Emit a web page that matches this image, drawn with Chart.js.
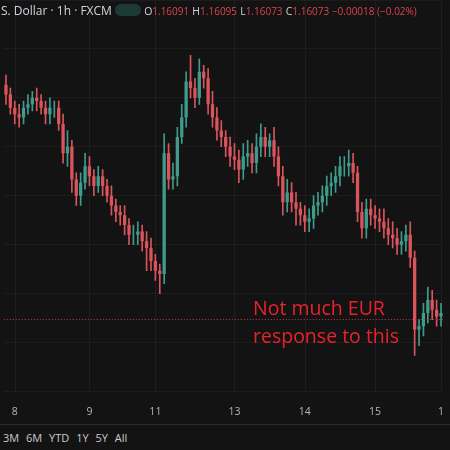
<!DOCTYPE html>
<html><head><meta charset="utf-8">
<script src="https://cdn.jsdelivr.net/npm/chart.js@4"></script>
<style>
html,body{margin:0;padding:0;background:#131313;width:450px;height:450px;overflow:hidden;font-family:"Open Sans",sans-serif}
#wrap{position:absolute;left:0;top:0;width:450px;height:424px}
#hdr{position:absolute;left:1px;top:2px;font-size:12px;color:#d1d4dc;white-space:nowrap}
#hdr .r{color:#d9454f;font-size:10px}
#hdr .k{font-size:10.5px}
#bot{position:absolute;left:0;top:424px;width:450px;height:26px;border-top:1px solid #2a2a2a;color:#c8cad0;font-size:11px;line-height:26px;padding-left:3px;word-spacing:4px}
</style></head><body>
<div id="wrap"><canvas id="c"></canvas></div>
<div id="hdr">S. Dollar · 1h · FXCM <span style="display:inline-block;width:26px;height:12px;background:#1d3b35;border-radius:6px;vertical-align:-1px"></span> <span class="k">O</span><span class="r">1.16091</span> <span class="k">H</span><span class="r">1.16095</span> <span class="k">L</span><span class="r">1.16073</span> <span class="k">C</span><span class="r">1.16073 −0.00018 (−0.02%)</span></div>
<div id="bot">3M 6M YTD 1Y 5Y All</div>
<script>
const closes=[1.1676,1.1672,1.1670,1.1669,1.1672,1.1673,1.1675,1.1674,1.1672,1.1670,
1.1672,1.1672,1.1667,1.1658,1.1660,1.1650,1.1645,1.1649,1.1654,1.1651,
1.1648,1.1651,1.1648,1.1645,1.1642,1.1640,1.1639,1.1636,1.1633,1.1633,
1.1634,1.1631,1.1629,1.1625,1.1622,1.1621,1.1658,1.1650,1.1651,1.1663,
1.1669,1.1680,1.1678,1.1675,1.1683,1.1681,1.1673,1.1669,1.1665,1.1663,
1.1660,1.1657,1.1656,1.1653,1.1657,1.1658,1.1655,1.1660,1.1663,1.1660,
1.1662,1.1657,1.1651,1.1643,1.1646,1.1643,1.1641,1.1639,1.1637,1.1638,
1.1642,1.1643,1.1645,1.1648,1.1649,1.1651,1.1654,1.1654,1.1655,1.1652,
1.1640,1.1635,1.1641,1.1639,1.1638,1.1637,1.1635,1.1633,1.1632,1.1630,
1.1631,1.1633,1.1626,1.1604,1.1605,1.1609,1.1613,1.1610,1.1608,1.1609];
const firstOpen=1.1679;
const wickUp=[3,2,2,3,2,3,2,3,2,2, 3,2,2,3,5,2,2,3,4,3, 2,3,2,2,3,2,2,3,2,3, 3,2,3,3,2,2,6,3,4,3, 4,3,8,3,4,2,3,4,3,3, 2,3,4,3,4,4,3,4,4,3, 2,4,3,3,4,3,3,2,3,3, 3,3,3,3,3,3,3,3,4,3, 2,3,3,3,3,3,4,3,4,3, 3,3,4,2,2,3,4,3,3,3];
const wickDn=[3,2,3,3,2,2,2,3,2,3, 3,3,2,3,4,4,3,3,2,3, 3,2,3,2,3,3,3,3,3,3, 3,3,7,3,3,6,3,3,3,3, 2,3,3,3,2,3,3,3,3,3, 3,3,3,4,3,3,3,3,3,3, 3,3,3,4,3,3,5,3,3,3, 3,3,3,3,3,3,3,3,3,3, 3,3,3,3,3,3,3,3,3,3, 3,3,3,8,5,3,3,3,3,3];
const dayLabels={2:"8",19:"9",34:"11",52:"13",68:"14",84:"15",99:"1"};
const lastPrice=1.16073;

const labels=closes.map((_,i)=>dayLabels[i]||"");
const opens=closes.map((c,i)=>i===0?firstOpen:closes[i-1]);
const pip=0.0001;
const highs=closes.map((c,i)=>Math.max(c,opens[i])+wickUp[i]*pip);
const lows=closes.map((c,i)=>Math.min(c,opens[i])-wickDn[i]*pip);
const GREEN='#3e9c8c',RED='#d9545c';
const col=closes.map((c,i)=>c>=opens[i]?GREEN:RED);
const gridLine={id:'gl',beforeDatasetsDraw(ch){const {ctx,chartArea:a,scales:{x,y}}=ch;ctx.save();ctx.strokeStyle='#1e1e1e';ctx.lineWidth=1;
 Object.keys(dayLabels).forEach(k=>{const px=Math.round(x.getPixelForValue(+k))+0.5;ctx.beginPath();ctx.moveTo(px,0);ctx.lineTo(px,a.bottom);ctx.stroke();});ctx.restore();},
 afterDatasetsDraw(ch){const {ctx,chartArea:a,scales:{y}}=ch;const py=Math.round(y.getPixelForValue(lastPrice))+0.5;ctx.save();ctx.strokeStyle='#c0404a';ctx.setLineDash([1,2]);ctx.beginPath();ctx.moveTo(a.left,py);ctx.lineTo(a.right,py);ctx.stroke();ctx.setLineDash([]);
 ctx.fillStyle='#e8232c';ctx.font='19.5px "Open Sans"';ctx.fillText('Not much EUR',253,315);ctx.fillText('response to this',253,343);ctx.restore();}};
new Chart(document.getElementById('c'),{type:'bar',
data:{labels,datasets:[
 {data:closes.map((c,i)=>[opens[i],c]),backgroundColor:col,barPercentage:0.75,categoryPercentage:1,grouped:false,order:1},
 {data:closes.map((c,i)=>[lows[i],highs[i]]),backgroundColor:col,barThickness:1,grouped:false,order:2}
]},
options:{responsive:true,maintainAspectRatio:false,animation:false,
 layout:{padding:{left:0,right:0,top:0,bottom:0}},
 plugins:{legend:{display:false},tooltip:{enabled:false}},
 scales:{
  x:{offset:true,grid:{display:false},border:{display:false},
     ticks:{autoSkip:false,maxRotation:0,color:'#b2b5be',font:{size:10.5,family:'Open Sans'},padding:6}},
  y:{display:true,position:'right',min:1.1585,max:1.1705,
     ticks:{display:false,stepSize:0.0015},border:{display:false},
     grid:{color:'#1c1c1c',drawTicks:false},afterFit(s){s.width=0;}}
 }},
plugins:[gridLine]});
</script></body></html>
